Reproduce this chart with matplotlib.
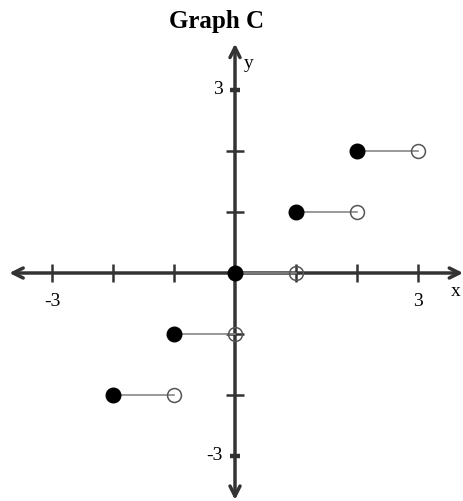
import matplotlib.pyplot as plt
import numpy as np

# step function (floor) pieces: closed at left, open at right
starts = [-2, -1, 0, 1, 2]
levels = [-2, -1, 0, 1, 2]
ends = [-1, 0, 1, 2, 3]
tick_vals = [-3, -2, -1, 1, 2, 3]

W, H = 464, 501
ox, oy, unit = 235, 273, 61

fig = plt.figure(figsize=(W / 100, H / 100), dpi=100)
ax = fig.add_axes([0, 0, 1, 1])
ax.set_xlim(-ox / unit, (W - ox) / unit)
ax.set_ylim((oy - H) / unit, oy / unit)
ax.axis('off')

axcol = '#333333'
# axes with arrow heads
ax.annotate('', xy=(3.74, 0), xytext=(-3.70, 0),
            arrowprops=dict(arrowstyle='<->', lw=2.5, color=axcol,
                            mutation_scale=18, shrinkA=0, shrinkB=0))
ax.annotate('', xy=(0, 3.76), xytext=(0, -3.72),
            arrowprops=dict(arrowstyle='<->', lw=2.5, color=axcol,
                            mutation_scale=18, shrinkA=0, shrinkB=0))

# ticks
tl = 0.14
for t in tick_vals:
    ax.plot([t, t], [-tl, tl], color=axcol, lw=1.8, solid_capstyle='butt')
    if abs(t) == 3:
        ax.plot([0, 0], [t - 0.1, t + 0.1], color='white', lw=3, solid_capstyle='butt')
        ax.plot([-0.09, 0.09], [t, t], color=axcol, lw=3.2, solid_capstyle='butt')
    else:
        ax.plot([-tl, tl], [t, t], color=axcol, lw=1.8, solid_capstyle='butt')

# tick labels
font = dict(family='Liberation Serif', fontsize=14)
ax.text(-3, -0.475, '-3', ha='center', va='center', **font)
ax.text(3, -0.475, '3', ha='center', va='center', **font)
ax.text(-0.28, 3, '3', ha='center', va='center', **font)
ax.text(-0.2, -3, '-3', ha='right', va='center', **font)
ax.text(3.62, -0.3, 'x', ha='center', va='center', **font)
ax.text(0.23, 3.44, 'y', ha='center', va='center', **font)

# step segments
for s, e, lv in zip(starts, ends, levels):
    ax.plot([s, e], [lv, lv], color='#888888', lw=1.2, zorder=3)
    ax.plot(e, lv, 'o', ms=10, mfc='none', mec='#555555', mew=1.1, zorder=4)
    ax.plot(s, lv, 'o', ms=10.5, mfc='black', mec='black', zorder=5)

fig.text(217 / W, 1 - 28 / H, 'Graph C', ha='center', va='baseline',
         family='Liberation Serif', fontweight='bold', fontsize=18)

fig.savefig('out.png', dpi=100)
